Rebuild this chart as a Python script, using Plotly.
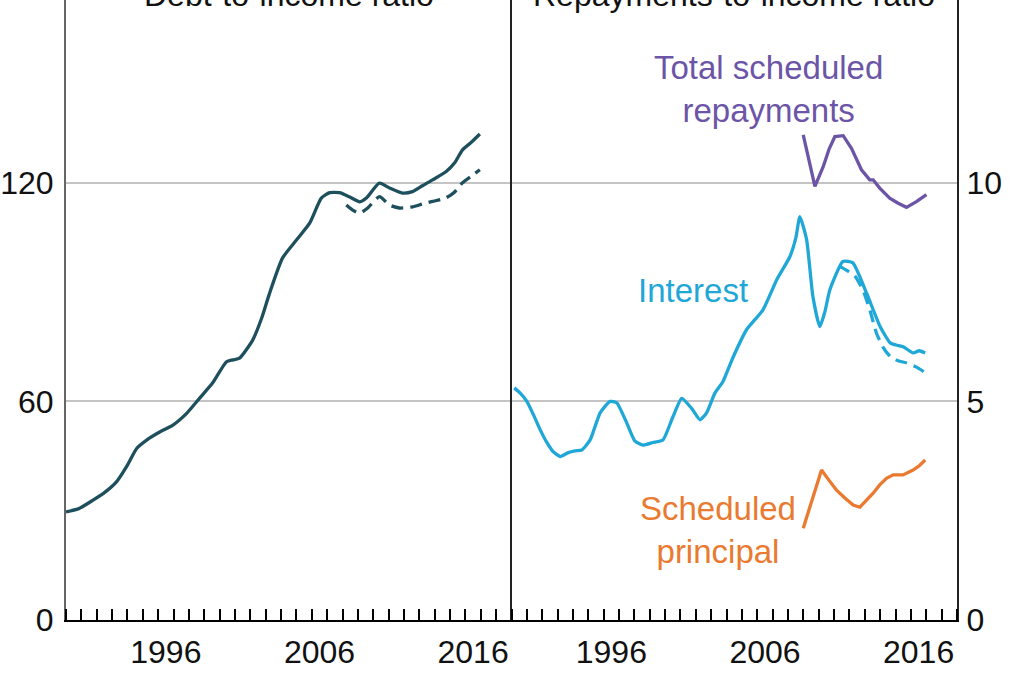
import plotly.graph_objects as go

# ---------------- data ----------------
debt_years = [1990.0, 1990.8, 1991.76, 1992.54, 1993.3, 1993.97, 1994.6, 1995.25, 1996.1, 1996.96,
              1997.87, 1998.7, 1999.55, 2000.45, 2000.86, 2001.3, 2002.16, 2002.74, 2003.26, 2004.1,
              2005.0, 2005.87, 2006.62, 2007.17, 2007.8, 2008.47, 2009.12, 2009.57, 2010.4, 2011.06,
              2011.9, 2012.55, 2013.2, 2013.86, 2014.75, 2015.3, 2015.8, 2016.4, 2016.94]
debt_ratio = [29.7, 30.5, 32.9, 35.1, 38.0, 42.3, 47.1, 49.4, 51.6, 53.5,
              56.8, 60.9, 65.1, 70.9, 71.4, 71.9, 76.9, 82.9, 89.8, 99.4,
              104.3, 109.0, 115.8, 117.3, 117.3, 116.1, 114.8, 115.9, 119.9, 118.6,
              117.2, 117.6, 119.2, 120.8, 123.1, 125.5, 129.0, 131.2, 133.4]

debt_net_years = [2008.25, 2008.66, 2009.12, 2009.64, 2010.4, 2011.06, 2011.7, 2012.55, 2013.2,
                  2013.86, 2014.75, 2015.3, 2015.8, 2016.4, 2016.94]
debt_net_ratio = [113.9, 112.5, 111.7, 113.1, 116.2, 113.9, 113.1, 113.4, 114.2,
                  114.9, 115.9, 117.5, 120.0, 121.9, 123.6]

interest_years = [1990.18, 1990.57, 1991.0, 1991.41, 1991.87, 1992.32, 1992.71, 1993.17, 1993.69, 1994.14,
                  1994.58, 1995.12, 1995.77, 1996.42, 1996.85, 1997.5, 1998.04, 1998.56, 1999.21, 1999.86,
                  2000.51, 2001.08, 2001.73, 2002.27, 2002.7, 2003.24, 2003.76, 2004.41, 2005.3, 2006.36,
                  2007.26, 2008.12, 2008.51, 2008.77, 2009.21, 2009.62, 2010.07, 2010.4, 2010.72, 2011.57,
                  2012.22, 2013.11, 2014.0, 2014.65, 2015.04, 2015.5, 2016.15, 2016.54, 2016.93]
interest_ratio = [5.31, 5.19, 5.0, 4.71, 4.35, 4.05, 3.85, 3.74, 3.83, 3.87,
                  3.89, 4.12, 4.74, 5.0, 4.97, 4.51, 4.09, 4.0, 4.06, 4.12,
                  4.65, 5.07, 4.84, 4.58, 4.74, 5.19, 5.45, 6.0, 6.64, 7.09,
                  7.78, 8.31, 8.74, 9.23, 8.7, 7.4, 6.71, 7.05, 7.55, 8.2,
                  8.17, 7.48, 6.71, 6.34, 6.29, 6.25, 6.11, 6.16, 6.11]

interest_net_years = [2011.3, 2011.81, 2012.35, 2012.87, 2013.33, 2013.76, 2014.17, 2014.65,
                      2015.17, 2015.73, 2016.33, 2016.93]
interest_net_ratio = [8.1, 8.0, 7.87, 7.55, 7.09, 6.56, 6.25, 6.03,
                      5.93, 5.88, 5.79, 5.66]

total_years = [2008.99, 2009.36, 2009.75, 2010.29, 2010.66, 2011.05, 2011.59, 2012.13, 2012.78,
               2013.32, 2013.54, 2013.97, 2014.62, 2015.14, 2015.71, 2016.36, 2017.01]
total_ratio = [11.1, 10.53, 9.92, 10.37, 10.76, 11.06, 11.08, 10.79, 10.3,
               10.07, 10.07, 9.88, 9.65, 9.54, 9.44, 9.57, 9.73]

principal_years = [2008.99, 2009.55, 2010.18, 2010.66, 2011.16, 2011.7, 2012.24, 2012.68, 2013.06,
                   2013.54, 2013.97, 2014.41, 2014.84, 2015.49, 2016.14, 2016.51, 2016.93]
principal_ratio = [2.1, 2.75, 3.43, 3.2, 2.97, 2.79, 2.63, 2.58, 2.72,
                   2.9, 3.09, 3.24, 3.32, 3.32, 3.43, 3.52, 3.66]

x_label_pos = [1996.5, 2006.5, 2016.5]
x_labels = ["1996", "2006", "2016"]
left_ticks = [0, 60, 120]
right_ticks = [0, 5, 10]

titles = ["Debt-to-income ratio", "Repayments-to-income ratio"]

# ---------------- style ----------------
FONT = "Liberation Sans, Arial, sans-serif"
FS = 32
FS_LAB = 33
LW = 3.3
C_DEBT = "#1d4f5c"
C_INT = "#1fa7d8"
C_TOT = "#6c55a6"
C_PRI = "#e97a30"
GRID = "#c4c4c4"

fig = go.Figure()

fig.add_trace(go.Scatter(x=debt_years, y=debt_ratio, mode="lines", xaxis="x", yaxis="y",
                         line=dict(color=C_DEBT, width=LW, shape="spline", smoothing=0.6)))
fig.add_trace(go.Scatter(x=debt_net_years, y=debt_net_ratio, mode="lines", xaxis="x", yaxis="y",
                         line=dict(color=C_DEBT, width=LW, dash="12px,7px", shape="spline", smoothing=0.6)))
fig.add_trace(go.Scatter(x=interest_years, y=interest_ratio, mode="lines", xaxis="x2", yaxis="y2",
                         line=dict(color=C_INT, width=LW, shape="spline", smoothing=0.5)))
fig.add_trace(go.Scatter(x=interest_net_years, y=interest_net_ratio, mode="lines", xaxis="x2", yaxis="y2",
                         line=dict(color=C_INT, width=LW, dash="12px,7px", shape="spline", smoothing=0.5)))
fig.add_trace(go.Scatter(x=total_years, y=total_ratio, mode="lines", xaxis="x2", yaxis="y2",
                         line=dict(color=C_TOT, width=LW)))
fig.add_trace(go.Scatter(x=principal_years, y=principal_ratio, mode="lines", xaxis="x2", yaxis="y2",
                         line=dict(color=C_PRI, width=LW)))

xcommon = dict(range=[1990, 2019], tickmode="array", tickvals=x_label_pos, ticktext=x_labels,
               ticks="", showgrid=False, zeroline=False, showline=True, linecolor="black", linewidth=2,
               tickfont=dict(family=FONT, size=FS, color="#111"), ticklabelstandoff=3,
               minor=dict(ticks="inside", ticklen=11, tickwidth=1.5, tickcolor="black",
                          tickmode="linear", tick0=1990, dtick=1, showgrid=False),
               automargin=False, fixedrange=True)

L, R, B = 65.6, 1024 - 957, 68
W = 1024 - L - R

fig.update_layout(
    width=1024, height=688,
    margin=dict(l=L, r=R, t=0, b=B, pad=0, autoexpand=False),
    paper_bgcolor="white", plot_bgcolor="white",
    showlegend=False,
    xaxis=dict(domain=[0, (511.3 - L) / W], anchor="y", **xcommon),
    xaxis2=dict(domain=[(511.3 - L) / W, 1], anchor="y2", **xcommon),
    yaxis=dict(domain=[0, 1], anchor="x", range=[0, 170.2], tickmode="array", tickvals=left_ticks,
               showgrid=True, gridcolor=GRID, gridwidth=1.5, zeroline=False,
               showline=True, linecolor="#666", linewidth=2, ticks="", automargin=False,
               tickfont=dict(family=FONT, size=FS, color="#111"), ticklabelstandoff=4, fixedrange=True),
    yaxis2=dict(domain=[0, 1], anchor="x2", side="right", range=[0, 170.2 / 12], tickmode="array",
                tickvals=right_ticks, showgrid=True, gridcolor=GRID, gridwidth=1.5, zeroline=False,
                showline=True, mirror=True, linecolor="#222", linewidth=2, ticks="", automargin=False,
                tickfont=dict(family=FONT, size=FS, color="#111"), ticklabelstandoff=1, fixedrange=True),
)

# panel titles (cropped at the top in the reference)
fig.add_annotation(text=titles[0], xref="x domain", yref="paper", x=0.5, y=1, yanchor="middle",
                   yshift=5, showarrow=False, font=dict(family=FONT, size=FS, color="#111"))
fig.add_annotation(text=titles[1], xref="x2 domain", yref="paper", x=0.5, y=1, yanchor="middle",
                   yshift=5, showarrow=False, font=dict(family=FONT, size=FS, color="#111"))

# series labels
fig.add_annotation(text="Total scheduled<br>repayments", xref="x2", yref="y2", x=2006.7, y=12.15,
                   showarrow=False, font=dict(family=FONT, size=FS_LAB, color=C_TOT), align="center")
fig.add_annotation(text="Interest", xref="x2", yref="y2", x=2001.8, y=7.53,
                   showarrow=False, font=dict(family=FONT, size=FS_LAB, color=C_INT))
fig.add_annotation(text="Scheduled<br>principal", xref="x2", yref="y2", x=2003.45, y=2.07,
                   showarrow=False, font=dict(family=FONT, size=FS_LAB, color=C_PRI), align="center")

fig.write_html("out.html", config={"displayModeBar": False},
               post_script="document.body.style.margin='0';document.body.style.overflow='hidden';")
